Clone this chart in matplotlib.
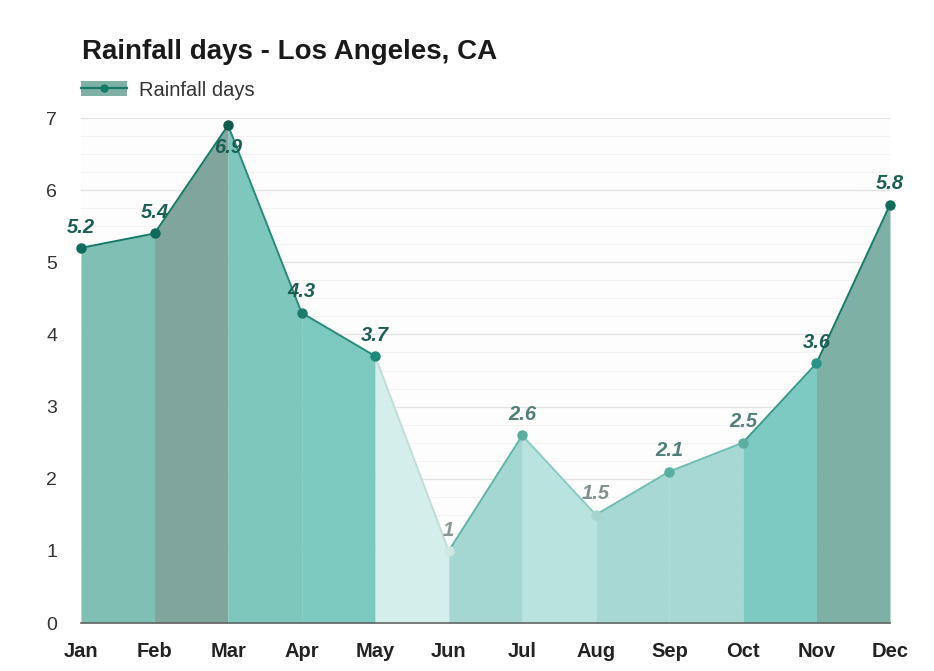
import matplotlib
matplotlib.use("Agg")
import matplotlib.pyplot as plt
from matplotlib.lines import Line2D
from matplotlib.patches import Patch
from matplotlib.ticker import MultipleLocator

plt.rcParams['font.family'] = ['Liberation Sans', 'DejaVu Sans']

months = ["Jan", "Feb", "Mar", "Apr", "May", "Jun", "Jul", "Aug", "Sep", "Oct", "Nov", "Dec"]
rain_days = [5.2, 5.4, 6.9, 4.3, 3.7, 1.0, 2.6, 1.5, 2.1, 2.5, 3.6, 5.8]
labels = ["5.2", "5.4", "6.9", "4.3", "3.7", "1", "2.6", "1.5", "2.1", "2.5", "3.6", "5.8"]

seg_fill = ["#80bfb4", "#7fa59c", "#7ec7bd", "#7cc9c0", "#d4eeeb", "#a5d7d2",
            "#b8e3df", "#a8d8d3", "#a8d8d3", "#7ccac2", "#7fb0a6"]
seg_line = ["#167a68", "#167a68", "#2b8a7c", "#2b8a7c", "#c4dcd9", "#5fb5a8",
            "#8ccbc3", "#6dbdb1", "#6dbdb1", "#3a9a8b", "#167a68"]
marker_col = ["#0f6b5b", "#0f6b5b", "#0f5a4d", "#1f7c6c", "#1f8a78", "#cfe8e4",
              "#5aaea0", "#a9d4ce", "#5aaea0", "#5aaea0", "#2a9484", "#0f6b5b"]
label_col = ["#1c5f55", "#1c5f55", "#1c5f55", "#1c5f55", "#1c5f55", "#8a9694",
             "#4f7f78", "#7f908d", "#4f7f78", "#4f7f78", "#1c5f55", "#1c5f55"]

fig = plt.figure(figsize=(9.34, 6.71), dpi=100)
ax = fig.add_axes([0.0867, 0.0715, 0.8662, 0.7526])
x = list(range(len(months)))

for i in range(len(months) - 1):
    ax.fill_between([x[i], x[i + 1]], [rain_days[i], rain_days[i + 1]], 0,
                    color=seg_fill[i], linewidth=0, zorder=2)
    ax.plot([x[i], x[i + 1]], [rain_days[i], rain_days[i + 1]],
            color=seg_line[i], linewidth=1.4, zorder=3, clip_on=False)

for i in range(len(months)):
    ax.plot(x[i], rain_days[i], "o", color=marker_col[i], markersize=6.5, zorder=4,
            clip_on=False)
    off = (0, -16) if i == 2 else (0, 15)
    ax.annotate(labels[i], (x[i], rain_days[i]), xytext=off,
                textcoords="offset points", ha="center", va="center",
                fontsize=14.5, fontweight="bold", fontstyle="italic",
                color=label_col[i], zorder=5)

ax.set_xlim(0, 11)
ax.set_ylim(0, 7)
ax.set_xticks(x)
ax.set_xticklabels(months, fontsize=14.5, fontweight="bold", color="#222222")
ax.set_yticks(range(0, 8))
ax.tick_params(axis="y", labelsize=14, colors="#333333", length=0, pad=17)
ax.tick_params(axis="x", length=0, pad=14)
ax.yaxis.set_minor_locator(MultipleLocator(0.25))
ax.grid(axis="y", which="major", color="#e2e2e2", linewidth=0.9, zorder=0)
ax.grid(axis="y", which="minor", color="#f1f1f1", linewidth=0.7, zorder=0)
ax.tick_params(axis="y", which="minor", length=0)
for s in ["top", "right", "left"]:
    ax.spines[s].set_visible(False)
ax.spines["bottom"].set_color("#666666")
ax.spines["bottom"].set_linewidth(1.2)
ax.spines["bottom"].set_zorder(6)
ax.set_facecolor("#fdfdfd")

fig.text(0.088, 0.922, "Rainfall days - Los Angeles, CA", fontsize=20,
         fontweight="bold", color="#1a1a1a", va="center")

handle_patch = Patch(facecolor="#7fb0a6", edgecolor="none")
handle_line = Line2D([], [], color="#167a68", marker="o", markersize=5, linewidth=1.6)
ax.legend([(handle_patch, handle_line)], ["Rainfall days"],
          loc="upper left", bbox_to_anchor=(-0.0104, 1.09), frameon=False,
          fontsize=14.5, handlelength=2.3, handleheight=0.8, handletextpad=0.6,
          borderaxespad=0, labelcolor="#333333")

fig.savefig("out.png", dpi=100, facecolor="white")
